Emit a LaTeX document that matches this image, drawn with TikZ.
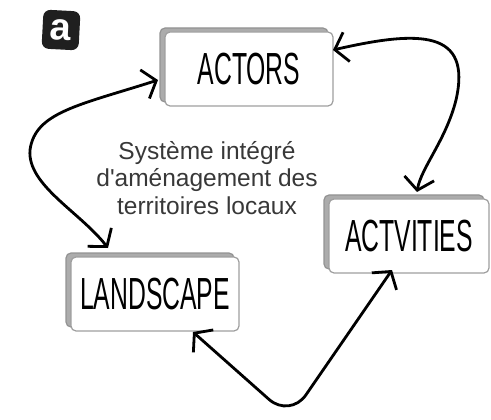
\documentclass[tikz,border=0pt]{standalone}
\usepackage{fontspec}
\setmainfont{Liberation Sans}
\usepackage{tikz}
\usetikzlibrary{arrows.meta,shadows}

\newcommand{\slim}[1]{\scalebox{0.55}[1]{#1}}

\begin{document}
\begin{tikzpicture}[
  x=1pt, y=-1pt,
  box/.style={draw=gray!75,line width=1.2pt,fill=white,rounded corners=5pt,
    minimum width=168pt,minimum height=74pt,inner sep=0pt,outer sep=0pt,
    general shadow={shadow xshift=-5pt,shadow yshift=4pt,fill=gray!65,
      draw=gray!85,line width=1.2pt},
    font=\fontsize{45}{45}\selectfont},
  flow/.style={{Straight Barb[length=12pt,width=30pt]}-{Straight Barb[length=12pt,width=30pt]},
    line width=2.8pt,line join=round}]
\useasboundingbox (0,0) rectangle (491,420);
% badge
\node[fill=black!88,rounded corners=7pt,minimum width=37pt,minimum height=39pt,
  inner sep=0pt,text=white,font=\fontsize{38}{38}\selectfont\bfseries,rotate=-3]
  (badge) at (61,30) {a};
% the three boxes
\node[box] (actors) at (249,69) {\slim{ACTORS}};
\node[box,minimum width=160pt] (activities) at (409,236) {\slim{ACTVITIES}};
\node[box] (landscape) at (155,294) {\slim{LANDSCAPE}};
\node[align=center,text=black!78,font=\fontsize{24.5}{27.5}\selectfont,inner sep=0pt]
  (caption) at (207,178) {Système intégré\\d\textquotesingle aménagement des\\territoires locaux};
% links
\draw[flow] ([shift={(-7pt,-11pt)}]actors.west)
  .. controls (80,105) and (35,112) .. (30,150)
  .. controls (27,185) and (80,212) .. ([shift={(-47pt,9pt)}]landscape.north);
\draw[flow] ([yshift=19pt]actors.east)
  .. controls (420,30) and (472,30) .. (456,100)
  .. controls (446,140) and (421,168) .. ([shift={(8pt,7pt)}]activities.north);
\draw[flow,rounded corners=28pt] ([shift={(38pt,-1pt)}]landscape.south)
  -- (290,418) -- ([shift={(-17pt,3pt)}]activities.south);
\end{tikzpicture}
\end{document}
